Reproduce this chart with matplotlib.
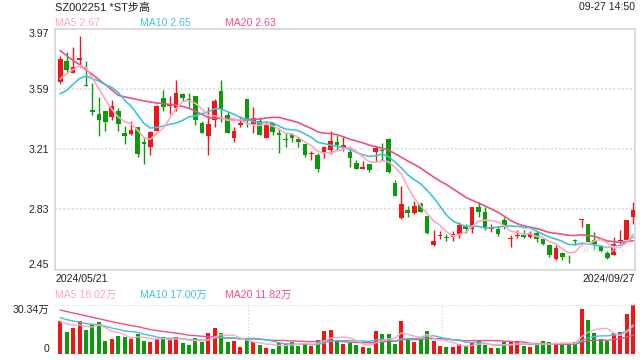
import matplotlib
matplotlib.use("Agg")
import matplotlib.pyplot as plt
import numpy as np
import pandas as pd

plt.rcParams['font.family'] = ['Liberation Sans', 'Noto Sans CJK SC', 'DejaVu Sans']

title = 'SZ002251 *ST步高'
stamp = '09-27 14:50'
start_date = '2024/05/21'
end_date = '2024/09/27'

# daily OHLC, 2024/05/21 .. 2024/09/27
opens = [3.635, 3.769, 3.689, 3.777, 3.616, 3.461, 3.430, 3.449, 3.415, 3.449,
         3.311, 3.306, 3.348, 3.254, 3.227, 3.323, 3.537, 3.485, 3.470, 3.562,
         3.525, 3.549, 3.378, 3.294, 3.394, 3.581, 3.428, 3.281, 3.363, 3.530,
         3.369, 3.390, 3.281, 3.373, 3.311, 3.273, 3.306, 3.273, 3.242, 3.183,
         3.174, 3.191, 3.206, 3.254, 3.227, 3.193, 3.122, 3.085, 3.116, 3.193,
         3.206, 3.277, 2.999, 2.775, 2.827, 2.810, 2.865, 2.787, 2.607, 2.659,
         2.655, 2.655, 2.676, 2.724, 2.703, 2.844, 2.813, 2.703, 2.708, 2.760,
         2.643, 2.660, 2.666, 2.656, 2.681, 2.641, 2.607, 2.515, 2.557, 2.519,
         2.635, 2.764, 2.739, 2.639, 2.599, 2.557, 2.540, 2.630, 2.639, 2.781]
highs = [3.798, 3.826, 3.855, 3.926, 3.767, 3.631, 3.541, 3.449, 3.520, 3.470,
         3.359, 3.390, 3.352, 3.281, 3.323, 3.490, 3.583, 3.547, 3.650, 3.568,
         3.568, 3.549, 3.390, 3.474, 3.530, 3.648, 3.447, 3.353, 3.422, 3.530,
         3.474, 3.411, 3.390, 3.380, 3.338, 3.311, 3.311, 3.285, 3.246, 3.197,
         3.185, 3.233, 3.323, 3.298, 3.285, 3.221, 3.141, 3.133, 3.116, 3.231,
         3.252, 3.283, 3.015, 2.976, 2.850, 2.882, 2.876, 2.791, 2.701, 2.691,
         2.676, 2.691, 2.750, 2.739, 2.844, 2.876, 2.844, 2.739, 2.728, 2.781,
         2.670, 2.697, 2.697, 2.691, 2.691, 2.645, 2.614, 2.603, 2.561, 2.540,
         2.643, 2.770, 2.739, 2.687, 2.603, 2.565, 2.656, 2.697, 2.760, 2.879]
lows = [3.625, 3.698, 3.689, 3.731, 3.610, 3.428, 3.294, 3.323, 3.394, 3.323,
        3.243, 3.302, 3.164, 3.118, 3.174, 3.323, 3.453, 3.432, 3.453, 3.516,
        3.478, 3.363, 3.312, 3.174, 3.353, 3.380, 3.312, 3.254, 3.348, 3.348,
        3.311, 3.302, 3.281, 3.302, 3.185, 3.223, 3.254, 3.227, 3.164, 3.145,
        3.066, 3.155, 3.181, 3.206, 3.200, 3.095, 3.085, 3.085, 3.068, 3.133,
        3.137, 3.060, 2.917, 2.771, 2.781, 2.802, 2.816, 2.676, 2.598, 2.641,
        2.628, 2.628, 2.649, 2.680, 2.680, 2.781, 2.697, 2.687, 2.662, 2.708,
        2.593, 2.649, 2.649, 2.649, 2.624, 2.603, 2.530, 2.509, 2.509, 2.488,
        2.603, 2.718, 2.628, 2.572, 2.561, 2.519, 2.540, 2.614, 2.628, 2.739]
closes = [3.782, 3.714, 3.731, 3.788, 3.610, 3.444, 3.394, 3.382, 3.484, 3.369,
          3.294, 3.329, 3.181, 3.246, 3.317, 3.486, 3.480, 3.490, 3.568, 3.532,
          3.520, 3.394, 3.312, 3.367, 3.512, 3.463, 3.312, 3.323, 3.373, 3.400,
          3.405, 3.302, 3.363, 3.319, 3.300, 3.269, 3.281, 3.256, 3.174, 3.187,
          3.086, 3.223, 3.265, 3.238, 3.237, 3.156, 3.085, 3.095, 3.081, 3.216,
          3.200, 3.064, 2.917, 2.865, 2.808, 2.850, 2.816, 2.683, 2.630, 2.665,
          2.649, 2.676, 2.733, 2.708, 2.844, 2.816, 2.712, 2.712, 2.672, 2.718,
          2.647, 2.670, 2.658, 2.683, 2.641, 2.609, 2.540, 2.588, 2.526, 2.515,
          2.630, 2.770, 2.625, 2.612, 2.565, 2.520, 2.614, 2.639, 2.760, 2.823]
# volume, in 万
volume = [20.4, 13.8, 15.9, 20.4, 14.9, 18.4, 20.0, 8.0, 9.3, 11.3,
          10.7, 9.3, 12.4, 8.0, 7.6, 9.3, 10.7, 8.7, 10.7, 7.0,
          5.6, 9.7, 7.6, 13.2, 16.3, 13.2, 7.6, 8.0, 4.5, 9.7,
          7.2, 5.6, 3.9, 3.1, 7.0, 6.5, 7.6, 5.1, 6.5, 5.0,
          8.7, 14.2, 14.9, 8.0, 6.2, 7.0, 5.6, 4.5, 3.5, 14.2,
          12.4, 12.4, 6.2, 20.4, 9.1, 7.2, 9.1, 14.2, 8.0, 5.1,
          4.1, 4.5, 6.0, 5.0, 7.0, 8.0, 5.6, 3.9, 3.9, 7.2,
          7.8, 8.3, 4.8, 4.2, 5.4, 8.3, 7.5, 6.8, 5.4, 5.9,
          7.2, 27.9, 21.0, 13.2, 9.3, 8.0, 12.8, 13.5, 24.8, 30.3]
# 19 sessions before the window, estimated from where the MA lines start
pre_close = [4.35, 4.35, 4.30, 4.25, 4.05, 4.05, 4.00, 4.15, 4.05, 3.50,
             3.50, 3.35, 3.42, 3.45, 3.62, 3.55, 3.60, 3.66, 3.68]
pre_volume = [32, 34, 38, 33, 36, 37, 27, 28, 27, 27,
              26, 24, 27, 25, 23, 21, 19, 20, 19.6]

# legend values as printed on the chart
price_ma_text = ['2.67', '2.65', '2.63']
vol_ma_text = ['18.02', '17.00', '11.82']

price_ticks = [2.45, 2.83, 3.21, 3.59, 3.97]
vol_top = 30.34

RED = '#f01616'
GREEN = '#0a9a0a'
C5, C10, C20 = '#ffa6c1', '#3fc3dd', '#ef4f86'

n = len(closes)
x = np.arange(n)
o, h, l, c = map(np.array, (opens, highs, lows, closes))
up = c >= o
cols = np.where(up, RED, GREEN)

cs = pd.Series(pre_close + closes)
vs = pd.Series(pre_volume + volume)
ma = {k: cs.rolling(k).mean().values[-n:] for k in (5, 10, 20)}
vma = {k: vs.rolling(k).mean().values[-n:] for k in (5, 10, 20)}

fig = plt.figure(figsize=(6.4, 3.6), dpi=100)
W, H = 640, 360
ax = fig.add_axes([55 / W, 1 - 269.5 / H, 580 / W, 240.5 / H])
ax2 = fig.add_axes([55 / W, 1 - 354 / H, 580 / W, 49 / H])
xlim = (-0.82, 89.3)

# price panel
for y in price_ticks[1:-1]:
    ax.axhline(y, color='#e3e3e3', lw=1.5, ls=(0, (1, 1)), zorder=0)
ax.vlines(x, l, h, colors=cols, lw=1.0, zorder=2)
body = np.maximum(np.abs(c - o), 0.004)
ax.bar(x, body, bottom=np.minimum(o, c), width=0.72, color=cols, lw=0, zorder=3)
ax.plot(x, ma[20], color=C20, lw=1.2, zorder=4)
ax.plot(x, ma[10], color=C10, lw=1.2, zorder=4)
ax.plot(x, ma[5], color=C5, lw=1.2, zorder=4)
fig.text(602 / W, 1 - 249 / H, 'sina.com', fontsize=8, color='#e6e6e6',
         ha='center', va='center', zorder=1)
ax.set_xlim(*xlim)
ax.set_ylim(price_ticks[0], price_ticks[-1])
ax.set_xticks([])
ax.set_yticks(price_ticks)
ax.set_yticklabels(['%.2f' % t for t in price_ticks])
ax.tick_params(axis='y', length=0, pad=4, labelsize=7.6, labelcolor='#222222')
labs = ax.get_yticklabels()
labs[0].set_va('bottom')
labs[-1].set_va('top')
for s in ax.spines.values():
    s.set_color('#d4d4d4')
    s.set_linewidth(1.2)

# volume panel
ax2.bar(x, volume, width=0.62, color=cols, lw=0)
ax2.plot(x, vma[20], color=C20, lw=1.0)
ax2.plot(x, vma[10], color=C10, lw=1.0)
ax2.plot(x, vma[5], color=C5, lw=1.0)
ax2.axhline(vol_top, color='#d8d8d8', lw=1.2, ls=(0, (1, 1)))
for f in (1 / 3, 2 / 3):
    ax2.axvline(xlim[0] + (xlim[1] - xlim[0]) * f, color='#cccccc', lw=0.8, ls=(0, (1, 2)))
ax2.set_xlim(*xlim)
ax2.set_ylim(0, vol_top)
ax2.set_xticks([])
ax2.set_yticks([0, vol_top])
ax2.set_yticklabels(['0', '%.2f万' % vol_top])
ax2.tick_params(axis='y', length=0, pad=4, labelsize=7.6, labelcolor='#222222')
vl = ax2.get_yticklabels()
vl[0].set_va('bottom')
vl[1].set_va('top')
for s in ax2.spines.values():
    s.set_visible(False)

# header texts (pixel positions)
def put(px, py, s, color='#222222', ha='left', size=7.6):
    fig.text(px / W, 1 - py / H, s, color=color, ha=ha, va='center', fontsize=size)

put(55, 7.5, title, size=8)
put(635, 7.5, stamp, ha='right')
put(55, 23.5, 'MA5 ' + price_ma_text[0], C5)
put(140, 23.5, 'MA10 ' + price_ma_text[1], C10)
put(225, 23.5, 'MA20 ' + price_ma_text[2], C20)
put(55, 278.5, start_date)
put(635, 278.5, end_date, ha='right')
put(55, 295, 'MA5 ' + vol_ma_text[0] + '万', C5)
put(140, 295, 'MA10 ' + vol_ma_text[1] + '万', C10)
put(225, 295, 'MA20 ' + vol_ma_text[2] + '万', C20)

fig.savefig('out.png', dpi=100)
